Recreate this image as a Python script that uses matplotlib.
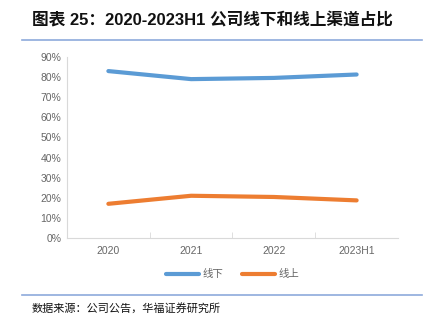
import matplotlib.pyplot as plt
from matplotlib.lines import Line2D

plt.rcParams['font.family'] = ['Liberation Sans', 'Noto Sans CJK SC', 'DejaVu Sans']

# 数据
years = ['2020', '2021', '2022', '2023H1']
offline = [83.0, 79.0, 79.6, 81.3]
online = [17.0, 21.0, 20.4, 18.7]
yticks = list(range(0, 91, 10))

fig = plt.figure(figsize=(4.31, 3.23), dpi=100)

# 标题和分隔线
fig.text(32 / 431, 1 - 20 / 323, '图表 25：2020-2023H1 公司线下和线上渠道占比',
         fontsize=12, fontweight='bold', va='center', ha='left', color='#111111')
fig.add_artist(Line2D([22 / 431, 422 / 431], [1 - 40 / 323, 1 - 40 / 323], color='#8eaadb', lw=1.2))
fig.add_artist(Line2D([22 / 431, 422 / 431], [1 - 295 / 323, 1 - 295 / 323], color='#8eaadb', lw=1.2))
fig.text(32 / 431, 1 - 308 / 323, '数据来源：公司公告，华福证券研究所',
         fontsize=8, va='center', ha='left', color='#111111')

ax = fig.add_axes([67 / 431, 1 - 238 / 323, (398 - 67) / 431, (238 - 57) / 323])
x = range(len(years))
ax.plot(x, offline, color='#5b9bd5', lw=3, solid_capstyle='round', label='线下')
ax.plot(x, online, color='#ed7d31', lw=3, solid_capstyle='round', label='线上')

ax.set_xlim(-0.5, len(years) - 0.5)
ax.set_ylim(0, 90)
ax.set_yticks(yticks)
ax.set_yticklabels([f'{v}%' for v in yticks])
ax.set_xticks(list(x))
ax.set_xticklabels(years)
ax.set_xticks([i + 0.5 for i in range(len(years) - 1)], minor=True)
ax.tick_params(axis='x', which='major', length=0, pad=6)
ax.tick_params(axis='x', which='minor', length=4, color='#d9d9d9', direction='in')
ax.tick_params(axis='y', length=0, pad=4)
ax.tick_params(labelsize=7.5, labelcolor='#666666')
for s in ['top', 'right']:
    ax.spines[s].set_visible(False)
for s in ['left', 'bottom']:
    ax.spines[s].set_color('#d9d9d9')

ax.legend(loc='center', bbox_to_anchor=(0.5, -0.2), ncol=2, frameon=False,
          fontsize=7.5, labelcolor='#666666', handlelength=3.2, handletextpad=0.3, columnspacing=1.8)

fig.savefig('out.png', dpi=100)
